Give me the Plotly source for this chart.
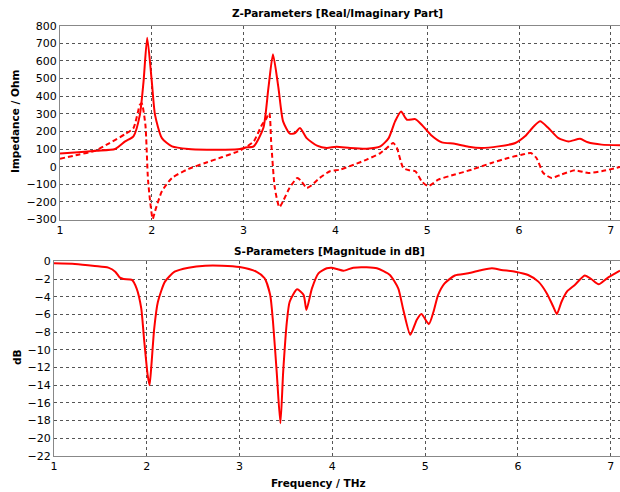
import plotly.graph_objects as go

# ---- Z-parameters: real part (solid) ----
z_re_f = [1.00, 1.20, 1.40, 1.60, 1.71, 1.80, 1.87, 1.91, 1.95, 2.00, 2.035, 2.11, 2.22, 2.40, 2.60, 2.80,
          2.96, 3.02, 3.11, 3.215, 3.27, 3.32, 3.38, 3.43, 3.505, 3.56, 3.614, 3.687, 3.80, 3.905, 4.01,
          4.16, 4.34, 4.49, 4.58, 4.65, 4.715, 4.78, 4.87, 4.94, 5.04, 5.16, 5.30, 5.45, 5.59, 5.775,
          5.96, 6.065, 6.16, 6.23, 6.32, 6.43, 6.54, 6.665, 6.75, 6.90, 7.10]
z_re = [75, 82, 90, 100, 143, 172, 294, 483, 732, 483, 294, 162, 115, 100, 96, 96,
        100, 109, 115, 219, 445, 638, 445, 257, 187, 191, 219, 162, 119, 106, 113,
        106, 102, 115, 162, 257, 313, 266, 270, 238, 180, 138, 130, 113, 106, 115,
        134, 172, 228, 257, 219, 162, 143, 158, 138, 125, 121]

# ---- Z-parameters: imaginary part (dashed) ----
z_im_f = [1.00, 1.20, 1.38, 1.54, 1.71, 1.80, 1.87, 1.89, 1.93, 1.96, 2.01, 2.035, 2.11, 2.22, 2.40, 2.58,
          2.76, 2.94, 3.02, 3.11, 3.20, 3.24, 3.28, 3.30, 3.34, 3.39, 3.43, 3.50, 3.585, 3.63, 3.687,
          3.74, 3.83, 3.94, 4.05, 4.20, 4.34, 4.49, 4.58, 4.63, 4.67, 4.74, 4.81, 4.87, 4.94, 5.01,
          5.12, 5.30, 5.485, 5.70, 5.88, 6.03, 6.13, 6.19, 6.265, 6.355, 6.46, 6.61, 6.755, 6.90, 7.10]
z_im = [45, 68, 90, 134, 185, 219, 351, 360, 238, -83, -296, -253, -140, -64, -13, 21,
        53, 87, 109, 143, 238, 266, 304, 143, -121, -230, -196, -121, -64, -83, -121,
        -106, -64, -26, -17, 11, 40, 77, 115, 134, 106, -8, -21, -26, -83, -111,
        -74, -45, -17, 21, 49, 68, 77, 49, -36, -64, -45, -21, -36, -26, -2]

# ---- S-parameters magnitude in dB ----
s_f = [1.00, 1.226, 1.44, 1.585, 1.66, 1.71, 1.75, 1.84, 1.89, 1.94, 1.97, 2.01, 2.03, 2.05, 2.08, 2.12,
       2.196, 2.30, 2.45, 2.63, 2.81, 3.00, 3.18, 3.27, 3.33, 3.36, 3.40, 3.44, 3.47, 3.51, 3.54,
       3.62, 3.69, 3.72, 3.78, 3.85, 3.94, 3.99, 4.05, 4.12, 4.225, 4.37, 4.48, 4.62, 4.71, 4.765,
       4.84, 4.91, 4.96, 5.04, 5.09, 5.14, 5.21, 5.32, 5.465, 5.61, 5.72, 5.82, 5.97, 6.11, 6.22,
       6.31, 6.38, 6.42, 6.47, 6.53, 6.61, 6.72, 6.79, 6.87, 6.96, 7.10]
s_db = [-0.23, -0.30, -0.53, -0.72, -1.17, -1.85, -2.0, -2.1, -3.06, -5.3, -8.7, -12.9, -14.0, -11.7, -7.6, -4.57,
        -2.3, -1.17, -0.72, -0.49, -0.49, -0.65, -1.17, -1.92, -3.8, -6.8, -12.5, -18.3, -12.5, -6.8, -4.57,
        -3.17, -3.8, -5.5, -3.06, -1.36, -0.79, -0.72, -0.87, -1.06, -0.72, -0.68, -0.79, -1.55, -3.06, -5.5,
        -8.3, -6.6, -5.96, -7.1, -5.7, -3.8, -2.5, -1.6, -1.36, -0.98, -0.79, -0.98, -1.17, -1.55, -2.3,
        -3.6, -5.1, -5.96, -4.57, -3.4, -2.7, -1.6, -2.0, -2.6, -1.92, -1.06]

x_ticks = [1, 2, 3, 4, 5, 6, 7]
z_ticks = list(range(-300, 801, 100))
s_ticks = list(range(-22, 1, 2))

RED = "#ff0000"
FONT = "DejaVu Sans"
W, H = 620, 492

fig = go.Figure()
fig.add_trace(go.Scatter(x=z_re_f, y=z_re, mode="lines", line=dict(color=RED, width=2, shape="spline", smoothing=0.6),
                         xaxis="x", yaxis="y", showlegend=False))
fig.add_trace(go.Scatter(x=z_im_f, y=z_im, mode="lines", line=dict(color=RED, width=2, dash="5px,3px", shape="spline", smoothing=0.6),
                         xaxis="x", yaxis="y", showlegend=False))
fig.add_trace(go.Scatter(x=s_f, y=s_db, mode="lines", line=dict(color=RED, width=2, shape="spline", smoothing=0.6),
                         xaxis="x2", yaxis="y2", showlegend=False))

tickfont = dict(family=FONT, size=11, color="#000000")
grid = dict(showgrid=True, gridcolor="#555555", griddash="dot", gridwidth=1,
            showline=True, linecolor="#888888", linewidth=1, zeroline=False,
            ticks="", tickfont=tickfont, automargin=False)

fig.update_layout(
    width=W, height=H,
    margin=dict(l=0, r=0, t=0, b=0, autoexpand=False),
    paper_bgcolor="white", plot_bgcolor="white",
    xaxis=dict(domain=[60 / W, 1], range=[1, 7.1], tickvals=x_ticks, anchor="y", mirror=True, **grid),
    yaxis=dict(domain=[(H - 219.5) / H, (H - 25.7) / H], range=[-300, 800], tickvals=z_ticks, anchor="x", **grid),
    xaxis2=dict(domain=[54 / W, 1], range=[1, 7.1], tickvals=x_ticks, anchor="y2", mirror=True, **grid),
    yaxis2=dict(domain=[(H - 456) / H, (H - 261.3) / H], range=[-22, 0], tickvals=s_ticks, anchor="x2", **grid),
)

titlefont = dict(family=FONT, size=10.5, color="#000000")
fig.add_annotation(text="<b>Z-Parameters [Real/Imaginary Part]</b>", x=337 / W, y=(H - 13) / H, xref="paper", yref="paper",
                   showarrow=False, font=titlefont, xanchor="center", yanchor="middle")
fig.add_annotation(text="<b>S-Parameters [Magnitude in dB]</b>", x=329 / W, y=(H - 251) / H, xref="paper", yref="paper",
                   showarrow=False, font=titlefont, xanchor="center", yanchor="middle")
fig.add_annotation(text="<b>Frequency / THz</b>", x=318 / W, y=(H - 483) / H, xref="paper", yref="paper",
                   showarrow=False, font=titlefont, xanchor="center", yanchor="middle")
fig.add_annotation(text="<b>Impedance / Ohm</b>", x=15 / W, y=(H - 122) / H, xref="paper", yref="paper",
                   showarrow=False, font=titlefont, textangle=-90, xanchor="center", yanchor="middle")
fig.add_annotation(text="<b>dB</b>", x=17 / W, y=(H - 357) / H, xref="paper", yref="paper",
                   showarrow=False, font=titlefont, textangle=-90, xanchor="center", yanchor="middle")

# bold tick labels
fig.update_xaxes(tickprefix="<b>", ticksuffix="</b>")
fig.update_yaxes(tickprefix="<b>", ticksuffix="</b>")

fig.write_html("out.html",
               config={"displayModeBar": False},
               post_script="document.body.style.margin='0';document.body.style.overflow='hidden';")
